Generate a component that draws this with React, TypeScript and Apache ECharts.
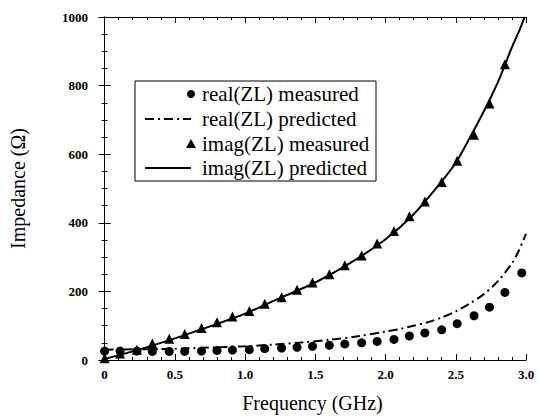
import React, { useEffect, useRef } from "react";
import * as echarts from "echarts";

// Measured sample frequencies (GHz)
const measuredFreq = [0, 0.11, 0.23, 0.34, 0.46, 0.57, 0.69, 0.8, 0.91, 1.03, 1.14, 1.26, 1.37, 1.48, 1.6, 1.71, 1.83, 1.94, 2.06, 2.17, 2.28, 2.4, 2.51, 2.63, 2.74, 2.85, 2.97];
// real(ZL) measured (Ohm)
const realMeasured = [26, 26, 26, 25, 25, 25, 26, 28, 29, 30, 33, 35, 37, 40, 43, 47, 50, 54, 60, 70, 79, 88, 106, 129, 154, 197, 254];
// imag(ZL) measured (Ohm), first 26 frequencies
const imagMeasured = [5, 19, 30, 48, 62, 76, 93, 110, 127, 143, 164, 183, 205, 226, 250, 276, 305, 340, 376, 419, 462, 519, 581, 657, 748, 862];

// Predicted curves
const realPredFreq = [0, 0.2, 0.4, 0.6, 0.8, 1.0, 1.2, 1.4, 1.6, 1.8, 2.0, 2.1, 2.2, 2.3, 2.4, 2.5, 2.6, 2.7, 2.8, 2.9, 2.95, 3.0];
const realPred = [30, 31, 32, 34, 37, 40, 45, 51, 59, 69, 83, 90, 100, 110, 124, 142, 165, 192, 230, 282, 320, 368];
const imagPredFreq = [0, 0.25, 0.5, 0.75, 1.0, 1.25, 1.5, 1.75, 2.0, 2.2, 2.4, 2.5, 2.6, 2.7, 2.8, 2.9, 2.95, 2.99];
const imagPred = [3, 31, 63, 98, 135, 181, 226, 283, 352, 425, 521, 575, 648, 725, 810, 912, 958, 1000];

// Axis ticks
const xMajorTicks = [0, 0.5, 1.0, 1.5, 2.0, 2.5, 3.0];
const xMinorTicks = [0, 0.1, 0.2, 0.3, 0.4, 0.5, 0.6, 0.7, 0.8, 0.9, 1.0, 1.1, 1.2, 1.3, 1.4, 1.5, 1.6, 1.7, 1.8, 1.9, 2.0, 2.1, 2.2, 2.3, 2.4, 2.5, 2.6, 2.7, 2.8, 2.9, 3.0];

const legendLabels = ["real(ZL) measured", "real(ZL) predicted", "imag(ZL) measured", "imag(ZL) predicted"];

const SERIF = "Liberation Serif";

export default function App() {
  const ref = useRef<HTMLDivElement>(null);
  useEffect(() => {
    if (!ref.current) return;
    const chart = echarts.init(ref.current, null, { renderer: "svg" });
    const xMin = -0.04;
    const xMax = 3.0;
    const xBase = {
      type: "value" as const,
      min: xMin,
      max: xMax,
      splitLine: { show: false },
    };
    const yBase = {
      type: "value" as const,
      min: 0,
      max: 1000,
      interval: 200,
      splitLine: { show: false },
      axisLine: { show: true, lineStyle: { color: "#000", width: 1 } },
      axisTick: { show: true, inside: true, length: 6, lineStyle: { color: "#000" } },
      minorTick: { show: true, splitNumber: 4, length: 3, lineStyle: { color: "#000" } },
    };
    const lx = 135, ly = 81, lw = 241, lh = 100;
    const rowY = [94, 119, 144, 168];
    const option: any = {
      animation: false,
      backgroundColor: "#fff",
      textStyle: { fontFamily: SERIF },
      grid: { left: 98, right: 13, top: 17, bottom: 50, containLabel: false },
      xAxis: [
        {
          ...xBase,
          position: "bottom",
          name: "Frequency (GHz)",
          nameLocation: "middle",
          nameGap: 33,
          nameTextStyle: { fontFamily: SERIF, fontSize: 20, color: "#000" },
          axisLine: { show: true, onZero: false, lineStyle: { color: "#000", width: 1 } },
          axisTick: { show: true, inside: true, length: 6, customValues: xMajorTicks, lineStyle: { color: "#000" } },
          axisLabel: {
            show: true,
            customValues: xMajorTicks,
            margin: 8,
            fontFamily: SERIF,
            fontWeight: "bold",
            fontSize: 13,
            color: "#000",
            formatter: (v: number) => (v === 0 ? "0" : v.toFixed(1)),
          },
        },
        {
          ...xBase,
          position: "bottom",
          axisLine: { show: false, onZero: false },
          axisTick: { show: true, inside: true, length: 3, customValues: xMinorTicks, lineStyle: { color: "#000" } },
          axisLabel: { show: false },
        },
        {
          ...xBase,
          position: "top",
          axisLine: { show: true, onZero: false, lineStyle: { color: "#000", width: 1 } },
          axisTick: { show: true, inside: true, length: 6, customValues: xMajorTicks, lineStyle: { color: "#000" } },
          axisLabel: { show: false },
        },
        {
          ...xBase,
          position: "top",
          axisLine: { show: false, onZero: false },
          axisTick: { show: true, inside: true, length: 3, customValues: xMinorTicks, lineStyle: { color: "#000" } },
          axisLabel: { show: false },
        },
      ],
      yAxis: [
        {
          ...yBase,
          position: "left",
          name: "Impedance (Ω)",
          nameLocation: "middle",
          nameRotate: 90,
          nameGap: 71,
          nameTextStyle: { fontFamily: SERIF, fontSize: 20, color: "#000" },
          axisLabel: {
            show: true,
            margin: 11,
            fontFamily: SERIF,
            fontWeight: "bold",
            fontSize: 13,
            color: "#000",
            formatter: (v: number) => String(v),
          },
        },
        {
          ...yBase,
          position: "right",
          axisLabel: { show: false },
        },
      ],
      series: [
        {
          name: legendLabels[1],
          type: "line",
          data: realPredFreq.map((f, i) => [f, realPred[i]]),
          showSymbol: false,
          smooth: 0.3,
          lineStyle: { color: "#000", width: 2, type: [9, 4, 2, 4] },
          z: 2,
        },
        {
          name: legendLabels[3],
          type: "line",
          data: imagPredFreq.map((f, i) => [f, imagPred[i]]),
          showSymbol: false,
          smooth: 0.3,
          lineStyle: { color: "#000", width: 2 },
          z: 2,
        },
        {
          name: legendLabels[0],
          type: "scatter",
          data: measuredFreq.map((f, i) => [f, realMeasured[i]]),
          symbol: "circle",
          symbolSize: 9,
          itemStyle: { color: "#000", opacity: 1 },
          z: 3,
        },
        {
          name: legendLabels[2],
          type: "scatter",
          data: imagMeasured.map((v, i) => [measuredFreq[i], v]),
          symbol: "triangle",
          symbolSize: 10,
          itemStyle: { color: "#000", opacity: 1 },
          z: 3,
        },
      ],
      graphic: [
        {
          type: "group",
          z: 10,
          children: [
            {
              type: "rect",
              shape: { x: lx, y: ly, width: lw, height: lh },
              style: { fill: "#fff", stroke: "#000", lineWidth: 1 },
            },
            { type: "circle", shape: { cx: 191, cy: rowY[0], r: 4 }, style: { fill: "#000" } },
            {
              type: "line",
              shape: { x1: 145, y1: rowY[1], x2: 191, y2: rowY[1] },
              style: { stroke: "#000", lineWidth: 2, lineDash: [9, 4, 2, 4] },
            },
            {
              type: "polygon",
              shape: { points: [[191, rowY[2] - 5], [186, rowY[2] + 4], [196, rowY[2] + 4]] },
              style: { fill: "#000" },
            },
            {
              type: "line",
              shape: { x1: 145, y1: rowY[3], x2: 191, y2: rowY[3] },
              style: { stroke: "#000", lineWidth: 2 },
            },
            ...legendLabels.map((t, i) => ({
              type: "text",
              x: 202,
              y: rowY[i],
              style: {
                text: t,
                fontFamily: SERIF,
                fontSize: 21,
                fill: "#000",
                verticalAlign: "middle",
                align: "left",
              },
            })),
          ],
        },
      ],
    };
    chart.setOption(option);
    return () => chart.dispose();
  }, []);
  return (
    <div
      ref={ref}
      style={{ position: "fixed", left: 0, top: 0, width: 539, height: 418, background: "#fff" }}
    />
  );
}
